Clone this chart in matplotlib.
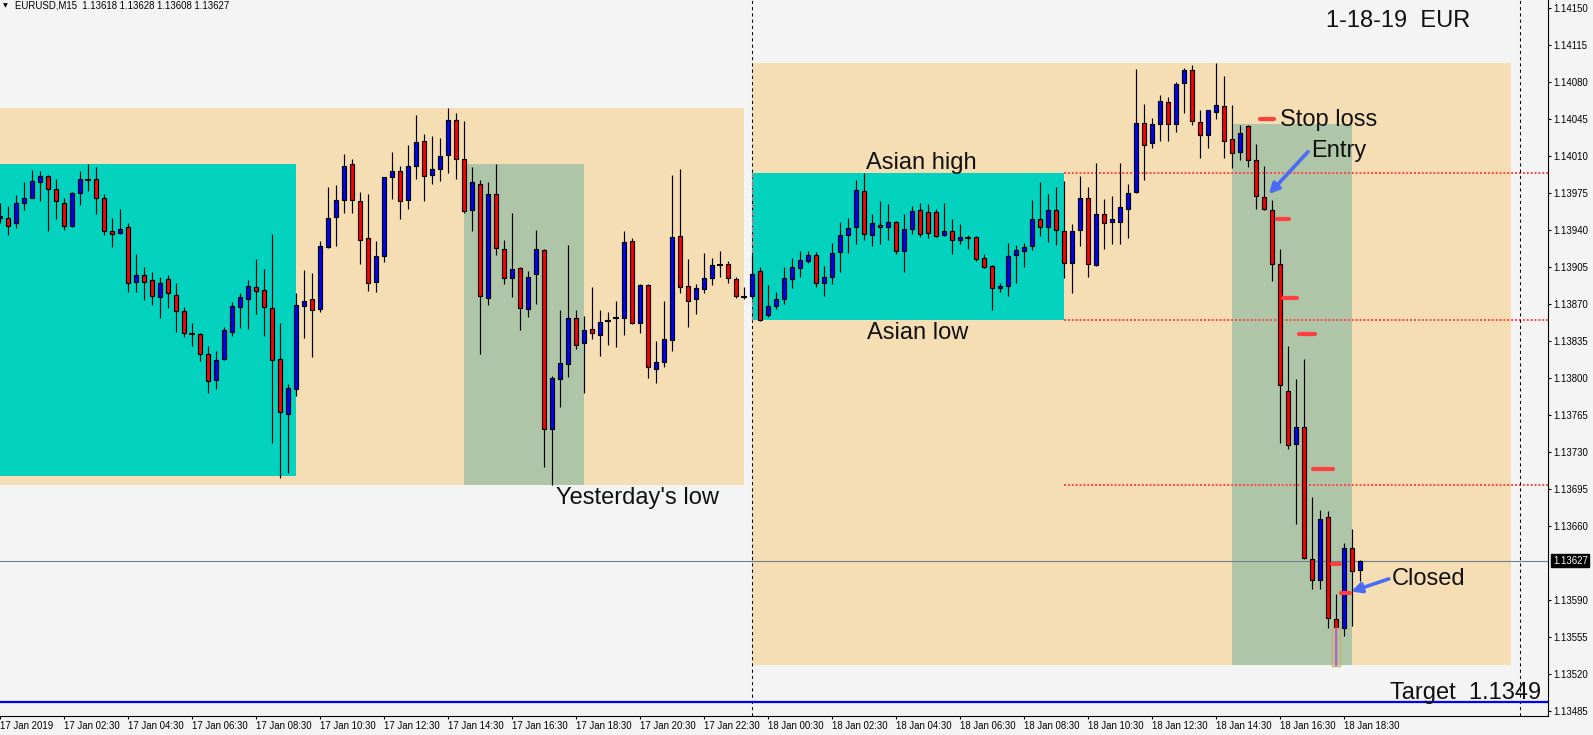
import matplotlib
matplotlib.use("Agg")
import matplotlib.pyplot as plt
from matplotlib.patches import Rectangle
import numpy as np

# EURUSD M15, bar 0 = 17 Jan 2019 00:30 (one bar = 15 min)
opens = [1.13951, 1.13951, 1.13947, 1.13966, 1.13970, 1.13985, 1.13991, 1.13979, 1.13966, 1.13944,
         1.13975, 1.13987, 1.13988, 1.13970, 1.13939, 1.13937, 1.13943, 1.13891, 1.13897, 1.13893,
         1.13877, 1.13894, 1.13879, 1.13863, 1.13842, 1.13842, 1.13823, 1.13798, 1.13818, 1.13844,
         1.13867, 1.13875, 1.13886, 1.13883, 1.13866, 1.13818, 1.13766, 1.13790, 1.13868, 1.13875,
         1.13865, 1.13924, 1.13952, 1.13968, 1.14002, 1.13967, 1.13932, 1.13891, 1.13915, 1.13990,
         1.13996, 1.13968, 1.14001, 1.14024, 1.13992, 1.13998, 1.14011, 1.14044, 1.14007, 1.13959,
         1.13984, 1.13876, 1.13974, 1.13922, 1.13895, 1.13904, 1.13865, 1.13898, 1.13921, 1.13752,
         1.13799, 1.13813, 1.13857, 1.13833, 1.13846, 1.13841, 1.13854, 1.13857, 1.13857, 1.13930,
         1.13852, 1.13888, 1.13809, 1.13815, 1.13836, 1.13934, 1.13887, 1.13875, 1.13884, 1.13895,
         1.13907, 1.13908, 1.13894, 1.13877, 1.13878, 1.13901, 1.13860, 1.13868, 1.13875, 1.13894,
         1.13904, 1.13911, 1.13916, 1.13890, 1.13896, 1.13919, 1.13935, 1.13943, 1.13977, 1.13935,
         1.13945, 1.13943, 1.13948, 1.13920, 1.13941, 1.13959, 1.13957, 1.13957, 1.13935, 1.13939,
         1.13931, 1.13932, 1.13933, 1.13914, 1.13906, 1.13885, 1.13887, 1.13916, 1.13920, 1.13925,
         1.13950, 1.13943, 1.13959, 1.13939, 1.13909, 1.13940, 1.13970, 1.13907, 1.13955, 1.13948,
         1.13948, 1.13960, 1.13976, 1.14041, 1.14022, 1.14040, 1.14061, 1.14040, 1.14079, 1.14091,
         1.14042, 1.14030, 1.14052, 1.14057, 1.14026, 1.14014, 1.14038, 1.14006, 1.13971, 1.13959,
         1.13908, 1.13788, 1.13738, 1.13754, 1.13629, 1.13609, 1.13669, 1.13572, 1.13564, 1.13639,
         1.13618]
highs = [1.13966, 1.13963, 1.13973, 1.13985, 1.13997, 1.13996, 1.13992, 1.13988, 1.13970, 1.13976,
         1.13996, 1.14002, 1.14000, 1.13974, 1.13951, 1.13960, 1.13947, 1.13917, 1.13905, 1.13900,
         1.13896, 1.13897, 1.13890, 1.13867, 1.13852, 1.13843, 1.13830, 1.13826, 1.13848, 1.13872,
         1.13880, 1.13893, 1.13913, 1.13903, 1.13936, 1.13852, 1.13794, 1.13880, 1.13902, 1.13899,
         1.13930, 1.13981, 1.13983, 1.14012, 1.14007, 1.13976, 1.13974, 1.13930, 1.13990, 1.14014,
         1.14001, 1.14020, 1.14049, 1.14031, 1.14029, 1.14027, 1.14055, 1.14051, 1.14043, 1.14000,
         1.13987, 1.13985, 1.14002, 1.13931, 1.13956, 1.13905, 1.13901, 1.13940, 1.13922, 1.13802,
         1.13864, 1.13926, 1.13864, 1.13859, 1.13886, 1.13864, 1.13862, 1.13873, 1.13939, 1.13932,
         1.13889, 1.13889, 1.13835, 1.13873, 1.13992, 1.13998, 1.13913, 1.13889, 1.13918, 1.13914,
         1.13920, 1.13911, 1.13896, 1.13886, 1.13917, 1.13905, 1.13888, 1.13881, 1.13905, 1.13914,
         1.13920, 1.13920, 1.13919, 1.13906, 1.13928, 1.13948, 1.13951, 1.13987, 1.13994, 1.13955,
         1.13967, 1.13965, 1.13949, 1.13955, 1.13963, 1.13966, 1.13965, 1.13960, 1.13966, 1.13950,
         1.13946, 1.13935, 1.13934, 1.13917, 1.13907, 1.13890, 1.13928, 1.13926, 1.13928, 1.13968,
         1.13985, 1.13974, 1.13981, 1.13986, 1.13946, 1.13991, 1.13981, 1.14003, 1.13969, 1.13972,
         1.14003, 1.13984, 1.14092, 1.14059, 1.14046, 1.14068, 1.14066, 1.14080, 1.14093, 1.14096,
         1.14054, 1.14054, 1.14098, 1.14086, 1.14058, 1.14039, 1.14039, 1.14021, 1.14001, 1.13968,
         1.13922, 1.13830, 1.13799, 1.13818, 1.13687, 1.13675, 1.13674, 1.13596, 1.13644, 1.13657,
         1.13628]
lows = [1.13947, 1.13935, 1.13942, 1.13959, 1.13970, 1.13967, 1.13939, 1.13950, 1.13940, 1.13943,
        1.13964, 1.13977, 1.13955, 1.13935, 1.13924, 1.13936, 1.13881, 1.13881, 1.13874, 1.13869,
        1.13857, 1.13866, 1.13844, 1.13839, 1.13830, 1.13816, 1.13786, 1.13790, 1.13817, 1.13840,
        1.13847, 1.13846, 1.13861, 1.13840, 1.13739, 1.13705, 1.13710, 1.13783, 1.13838, 1.13820,
        1.13862, 1.13923, 1.13925, 1.13956, 1.13956, 1.13908, 1.13882, 1.13881, 1.13910, 1.13969,
        1.13950, 1.13960, 1.13988, 1.13967, 1.13984, 1.13986, 1.13994, 1.13988, 1.13956, 1.13939,
        1.13823, 1.13869, 1.13916, 1.13889, 1.13877, 1.13845, 1.13858, 1.13870, 1.13716, 1.13699,
        1.13773, 1.13801, 1.13827, 1.13786, 1.13837, 1.13821, 1.13831, 1.13829, 1.13841, 1.13851,
        1.13843, 1.13800, 1.13795, 1.13810, 1.13826, 1.13880, 1.13848, 1.13861, 1.13880, 1.13888,
        1.13896, 1.13890, 1.13876, 1.13875, 1.13875, 1.13854, 1.13858, 1.13865, 1.13870, 1.13885,
        1.13896, 1.13909, 1.13886, 1.13878, 1.13889, 1.13900, 1.13918, 1.13927, 1.13931, 1.13925,
        1.13927, 1.13931, 1.13917, 1.13900, 1.13936, 1.13933, 1.13932, 1.13933, 1.13934, 1.13917,
        1.13927, 1.13922, 1.13911, 1.13904, 1.13864, 1.13881, 1.13878, 1.13890, 1.13905, 1.13921,
        1.13934, 1.13929, 1.13926, 1.13895, 1.13880, 1.13925, 1.13896, 1.13906, 1.13922, 1.13927,
        1.13927, 1.13932, 1.13975, 1.13987, 1.14018, 1.14024, 1.14024, 1.14033, 1.14051, 1.14039,
        1.14008, 1.14018, 1.14045, 1.14008, 1.13999, 1.14006, 1.14000, 1.13960, 1.13959, 1.13892,
        1.13739, 1.13733, 1.13662, 1.13629, 1.13600, 1.13600, 1.13564, 1.13528, 1.13556, 1.13565,
        1.13608]
closes = [1.13953, 1.13944, 1.13966, 1.13970, 1.13986, 1.13991, 1.13979, 1.13967, 1.13944, 1.13975,
          1.13988, 1.13987, 1.13970, 1.13939, 1.13936, 1.13941, 1.13890, 1.13897, 1.13891, 1.13878,
          1.13890, 1.13880, 1.13863, 1.13843, 1.13842, 1.13823, 1.13797, 1.13817, 1.13845, 1.13868,
          1.13877, 1.13887, 1.13882, 1.13867, 1.13817, 1.13768, 1.13791, 1.13869, 1.13873, 1.13864,
          1.13925, 1.13951, 1.13968, 1.14001, 1.13968, 1.13931, 1.13890, 1.13915, 1.13990, 1.13996,
          1.13967, 1.14001, 1.14023, 1.13991, 1.13998, 1.14010, 1.14044, 1.14007, 1.13958, 1.13985,
          1.13878, 1.13974, 1.13923, 1.13895, 1.13903, 1.13866, 1.13896, 1.13922, 1.13752, 1.13800,
          1.13814, 1.13857, 1.13831, 1.13845, 1.13843, 1.13853, 1.13854, 1.13857, 1.13929, 1.13852,
          1.13888, 1.13810, 1.13815, 1.13837, 1.13933, 1.13886, 1.13873, 1.13885, 1.13895, 1.13907,
          1.13907, 1.13895, 1.13878, 1.13877, 1.13898, 1.13855, 1.13868, 1.13875, 1.13895, 1.13905,
          1.13912, 1.13916, 1.13890, 1.13896, 1.13918, 1.13935, 1.13942, 1.13978, 1.13936, 1.13947,
          1.13943, 1.13948, 1.13920, 1.13941, 1.13958, 1.13936, 1.13937, 1.13934, 1.13939, 1.13931,
          1.13933, 1.13932, 1.13913, 1.13905, 1.13885, 1.13887, 1.13915, 1.13921, 1.13924, 1.13950,
          1.13943, 1.13959, 1.13940, 1.13909, 1.13939, 1.13970, 1.13908, 1.13955, 1.13947, 1.13950,
          1.13962, 1.13975, 1.14041, 1.14020, 1.14040, 1.14062, 1.14040, 1.14078, 1.14091, 1.14043,
          1.14030, 1.14054, 1.14058, 1.14024, 1.14013, 1.14032, 1.14006, 1.13972, 1.13960, 1.13908,
          1.13793, 1.13737, 1.13754, 1.13630, 1.13609, 1.13667, 1.13573, 1.13564, 1.13639, 1.13617,
          1.13627]

# session boxes: (first bar, last bar, high, low)
prev_day_box = (-1, 93, 1.14055, 1.13699)
asia_17_box = (-1, 37, 1.14002, 1.13707)
london_17_box = (58, 73, 1.14002, 1.13699)
day_18_box = (94, 188.9, 1.14098, 1.13529)
asia_18_box = (94, 133, 1.13994, 1.13855)
trade_box = (154, 169, 1.14040, 1.13529)

asian_high = 1.13994
asian_low = 1.13855
yesterday_low = 1.13699
target = 1.13494
last_price = 1.13627
day_separators = [94, 190]

# trade level marks (price, from bar, to bar)
level_prices = [1.14045, 1.13950, 1.13876, 1.13842, 1.13714, 1.13624, 1.13597]
level_from = [157.5, 159.6, 160.4, 162.4, 164.1, 166.5, 167.6]
level_to = [159.25, 161.1, 162.1, 164.4, 166.6, 167.5, 168.7]

price_ticks = [1.14150, 1.14115, 1.14080, 1.14045, 1.14010, 1.13975, 1.13940, 1.13905, 1.13870,
               1.13835, 1.13800, 1.13765, 1.13730, 1.13695, 1.13660, 1.13590, 1.13555, 1.13520,
               1.13485]
time_ticks = list(range(0, 169, 8))
time_labels = ["17 Jan 2019", "17 Jan 02:30", "17 Jan 04:30", "17 Jan 06:30", "17 Jan 08:30",
               "17 Jan 10:30", "17 Jan 12:30", "17 Jan 14:30", "17 Jan 16:30", "17 Jan 18:30",
               "17 Jan 20:30", "17 Jan 22:30", "18 Jan 00:30", "18 Jan 02:30", "18 Jan 04:30",
               "18 Jan 06:30", "18 Jan 08:30", "18 Jan 10:30", "18 Jan 12:30", "18 Jan 14:30",
               "18 Jan 16:30", "18 Jan 18:30"]

BG = "#f4f4f4"
WHEAT = "#f5deb3"
CYAN = "#03d3be"
SAGE = "#afc5a8"
RED_DOT = "#ff4444"
ARROW = "#4a6cf4"
FONT = "Liberation Sans"
SMALL = 6.9

fig = plt.figure(figsize=(15.93, 7.35), dpi=100, facecolor=BG)
ax = fig.add_axes([0, 19 / 735, 1548 / 1593, 716 / 735], facecolor=BG)
ax.set_xlim(0, 193.5)
ax.set_ylim(1.134803, 1.141576)


def box(spec, color, z):
    x0, x1, hi, lo = spec
    ax.add_patch(Rectangle((x0, lo), x1 - x0, hi - lo, facecolor=color, edgecolor="none", zorder=z))


box(prev_day_box, WHEAT, 1)
box(day_18_box, WHEAT, 1)
box(asia_17_box, CYAN, 2)
box(asia_18_box, CYAN, 2)
box(london_17_box, SAGE, 2)
box(trade_box, SAGE, 2)

# session levels
for lvl in (asian_high, asian_low, yesterday_low):
    ax.hlines(lvl, asia_18_box[1], 193.5, color=RED_DOT, lw=1.4, linestyle=(0, (1, 1)), zorder=4)
for sep in day_separators:
    ax.axvline(sep, color="black", lw=0.75, linestyle=(0, (3, 3)), zorder=4)
ax.vlines(asia_18_box[0], asian_low, asian_high, color="#ff5070", lw=0.9, linestyle=(0, (3, 3)), zorder=4)
ax.axhline(last_price, color="#708090", lw=0.8, zorder=4)
ax.axhline(target, color="#0000ff", lw=1.6, zorder=4)

# candles
o, h, l, c = (np.array(v) for v in (opens, highs, lows, closes))
x = np.arange(len(o))
up = c > o
dn = c < o
flat = c == o
ax.vlines(x, l, h, color="black", lw=0.85, zorder=5)
ax.bar(x[up], (c - o)[up], bottom=o[up], width=0.58, color="#0000ff", edgecolor="black", lw=0.85, zorder=6)
ax.bar(x[dn], (o - c)[dn], bottom=c[dn], width=0.58, color="#ff0000", edgecolor="black", lw=0.85, zorder=6)
ax.hlines(o[flat], x[flat] - 0.35, x[flat] + 0.35, color="black", lw=1.5, zorder=6)

# highlight of the lowest wick
lowest = int(np.argmin(l))
ax.add_patch(Rectangle((lowest - 0.45, l[lowest]), 0.9, min(o[lowest], c[lowest]) - l[lowest],
                       facecolor="none", edgecolor="#c8b26a", lw=1.0, zorder=7))
ax.vlines(lowest, l[lowest], min(o[lowest], c[lowest]), color="#c060c8", lw=1.4, zorder=7)

# trade level marks
ax.hlines(level_prices, level_from, level_to, color="#ff4040", lw=3, capstyle="round", zorder=7)

# annotations
tkw = dict(fontsize=17, family=FONT, color="#111111", va="baseline", ha="left", zorder=8)
ax.text(165.75, 1.14132, "1-18-19  EUR", **tkw)
ax.text(160.0, 1.14038, "Stop loss", **tkw)
ax.text(163.9, 1.14009, "Entry", **tkw)
ax.text(108.25, 1.13998, "Asian high", **tkw)
ax.text(108.4, 1.13837, "Asian low", **tkw)
ax.text(69.5, 1.13681, "Yesterday's low", **tkw)
ax.text(174.0, 1.13604, "Closed", **tkw)
ax.text(173.8, 1.13496, "Target  1.1349", **tkw)

akw = dict(arrowstyle="-|>", color=ARROW, lw=2.6, mutation_scale=15, shrinkA=0, shrinkB=0)
ax.annotate("", xy=(158.6, 1.13974), xytext=(163.5, 1.14014), arrowprops=akw, zorder=8)
ax.annotate("", xy=(168.9, 1.13598), xytext=(173.6, 1.13610), arrowprops=akw, zorder=8)

# axes styling (MT4 look)
for side in ("left", "top"):
    ax.spines[side].set_visible(False)
for side in ("right", "bottom"):
    ax.spines[side].set_linewidth(0.8)
ax.yaxis.tick_right()
ax.set_yticks(price_ticks)
ax.set_yticklabels([f"{p:.5f}" for p in price_ticks], family=FONT, fontsize=SMALL)
ax.set_xticks(time_ticks)
ax.set_xticklabels(time_labels, family=FONT, fontsize=SMALL, ha="left")
ax.tick_params(axis="y", length=2.5, width=0.8, pad=1.5)
ax.tick_params(axis="x", length=2.5, width=0.8, pad=1.0)

ax.annotate(f"{last_price:.5f}", xy=(1.0, last_price), xycoords=("axes fraction", "data"),
            xytext=(3.5, 0), textcoords="offset points", ha="left", va="center",
            color="white", fontsize=SMALL, family=FONT, annotation_clip=False,
            bbox=dict(boxstyle="square,pad=0.15", facecolor="black", edgecolor="black"))

fig.text(3 / 1593, 1 - 5.5 / 735, "\u25bc", fontsize=4.5, va="center", ha="left", family="DejaVu Sans")
fig.text(15 / 1593, 1 - 5.5 / 735, "EURUSD,M15  1.13618 1.13628 1.13608 1.13627",
         fontsize=SMALL, family=FONT, va="center", ha="left")

fig.savefig("out.png", dpi=100, facecolor=BG)
